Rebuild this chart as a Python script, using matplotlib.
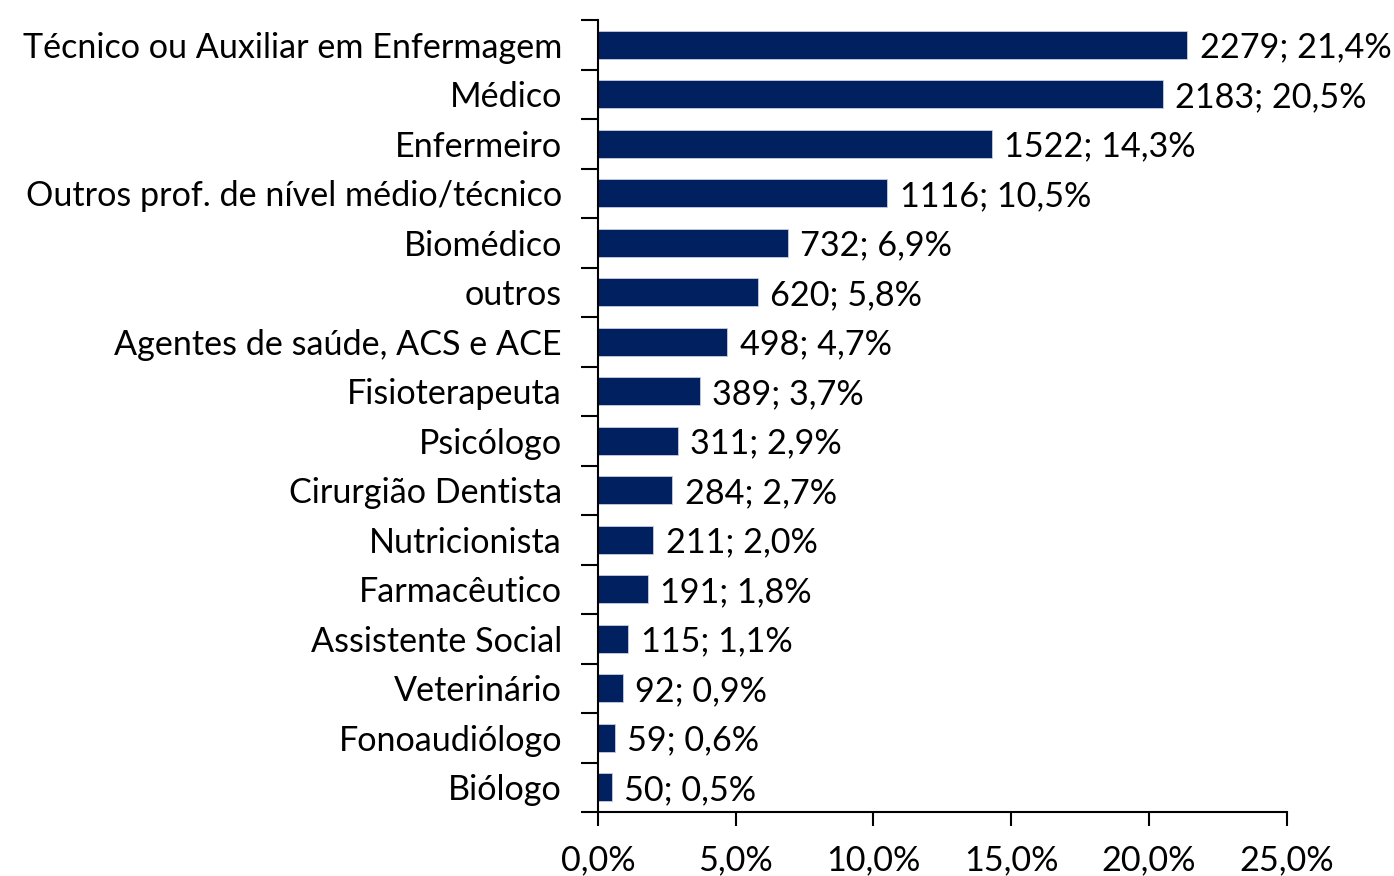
import matplotlib.pyplot as plt
import numpy as np
from matplotlib.ticker import FuncFormatter, FixedLocator

categorias = ["Técnico ou Auxiliar em Enfermagem", "Médico", "Enfermeiro",
              "Outros prof. de nível médio/técnico", "Biomédico", "outros",
              "Agentes de saúde, ACS e ACE", "Fisioterapeuta", "Psicólogo",
              "Cirurgião Dentista", "Nutricionista", "Farmacêutico",
              "Assistente Social", "Veterinário", "Fonoaudiólogo", "Biólogo"]
contagem = [2279, 2183, 1522, 1116, 732, 620, 498, 389, 311, 284, 211, 191, 115, 92, 59, 50]
percentual = [21.4, 20.5, 14.3, 10.5, 6.9, 5.8, 4.7, 3.7, 2.9, 2.7, 2.0, 1.8, 1.1, 0.9, 0.6, 0.5]
xticks = [0, 5, 10, 15, 20, 25]

plt.rcParams['font.family'] = ['Lato', 'DejaVu Sans']
cor = "#002060"
fs = 24.6

fig = plt.figure(figsize=(13.94, 8.76), dpi=100)
ax = fig.add_axes([0.429, 0.073, 0.494, 0.904])

y = np.arange(len(categorias))
ax.barh(y, percentual, height=0.57, color=cor, edgecolor="#c8cde0", linewidth=0.6)
for yi, c, p in zip(y, contagem, percentual):
    txt = f"{c}; {p:.1f}%".replace(".", ",")
    ax.text(p + 0.45, yi + 0.05, txt, va="center", ha="left", fontsize=fs)

ax.set_ylim(len(categorias) - 0.5, -0.5)
ax.set_xlim(0, 25)
ax.set_yticks(y)
ax.set_yticklabels(categorias, fontsize=fs)
ax.tick_params(axis="y", which="major", length=0, pad=26)
ax.yaxis.set_minor_locator(FixedLocator(np.arange(-0.5, len(categorias), 1.0)))
ax.tick_params(axis="y", which="minor", length=12, width=1.5, direction="out")

ax.set_xticks(xticks)
ax.xaxis.set_major_formatter(FuncFormatter(lambda v, pos: f"{v:.1f}%".replace(".", ",")))
ax.tick_params(axis="x", length=10, width=1.5, direction="out", pad=13, labelsize=fs)

for s in ["top", "right"]:
    ax.spines[s].set_visible(False)
ax.spines["left"].set_linewidth(1.5)
ax.spines["bottom"].set_linewidth(1.5)

fig.savefig("out.png", dpi=100)
